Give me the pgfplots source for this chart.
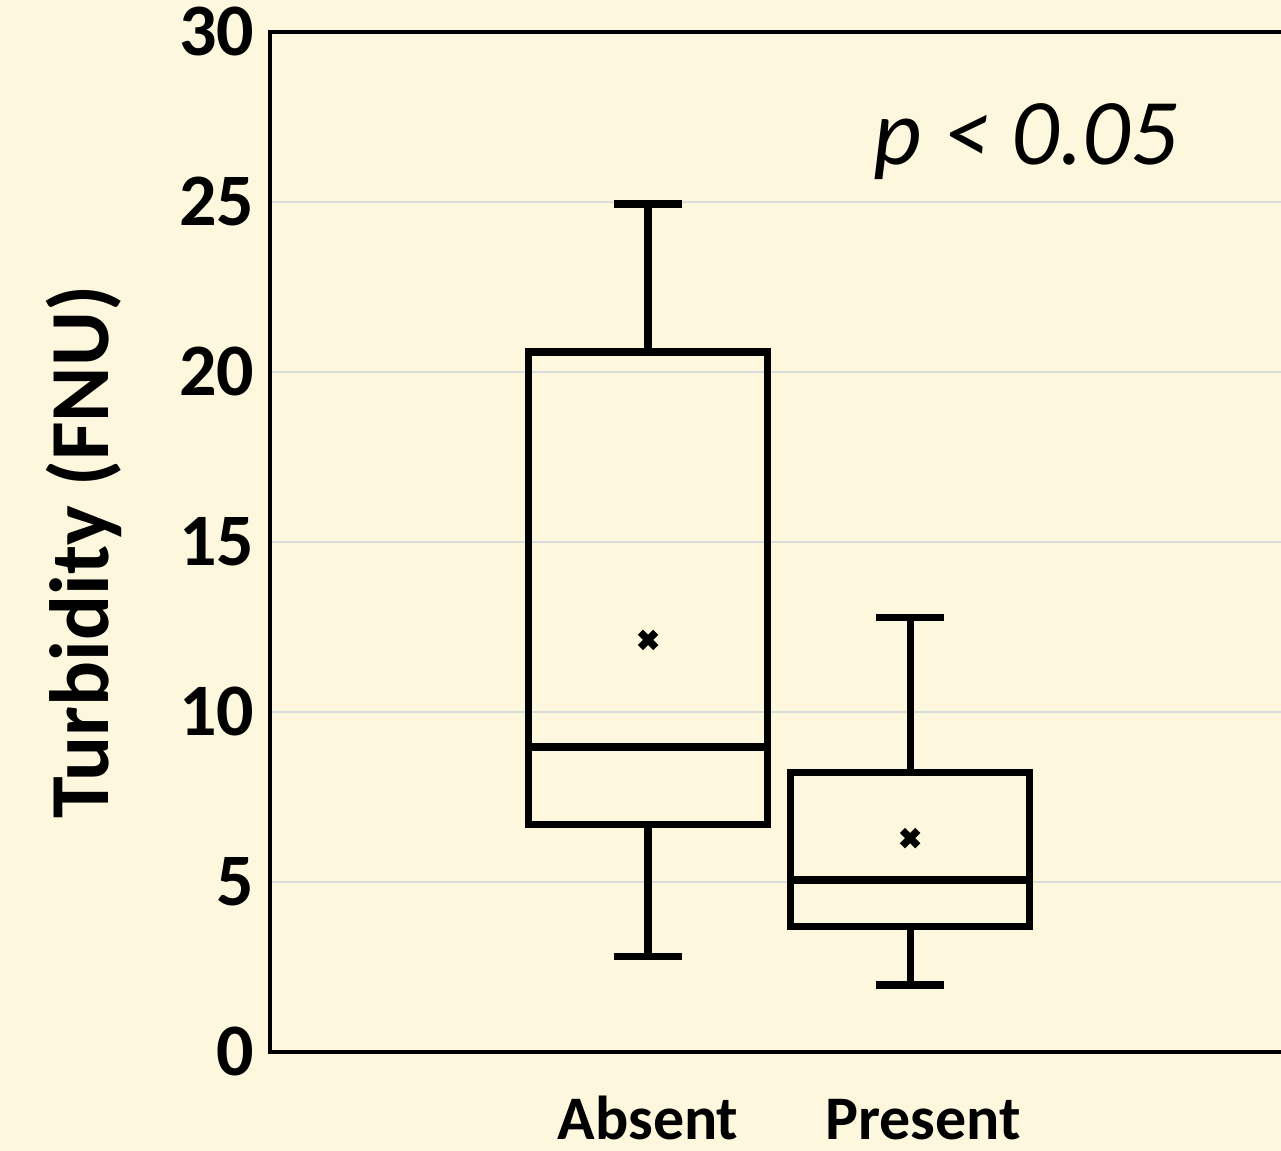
\documentclass[border=0pt]{standalone}
\usepackage{fontspec}
\setmainfont{Carlito}
\usepackage{pgfplots}
\pgfplotsset{compat=1.18}
\usepgfplotslibrary{statistics}
\definecolor{bgc}{RGB}{253,248,221}
\definecolor{gridc}{RGB}{218,219,221}
\begin{document}
\begin{tikzpicture}[x=1pt,y=1pt]
\fill[bgc] (0,0) rectangle (320.25,287.75);
\useasboundingbox (0,0) rectangle (320.25,287.75);
\clip (0,0) rectangle (320.25,287.75);
\begin{axis}[
  at={(67.5pt,24.75pt)}, anchor=south west,
  width=255pt, height=255pt, scale only axis,
  xmin=-0.443, xmax=3.45, ymin=0, ymax=30,
  axis line style={line width=1pt},
  ytick={0,5,...,30}, xtick={1,2.05}, xticklabels={Absent,Present},
  major tick length=0pt,
  ymajorgrids, grid style={gridc, line width=0.6pt},
  /pgf/number format/assume math mode=true,
  yticklabel style={font=\bfseries\fontsize{18.5}{18.5}\selectfont, anchor=east, inner sep=0pt, xshift=-3.75pt},
  xticklabel style={font=\bfseries\fontsize{15.5}{15.5}\selectfont, anchor=base, inner sep=0pt, yshift=-22pt},
  ylabel={Turbidity (FNU)},
  every axis y label/.style={at={(axis description cs:-0.182,0.49)}, rotate=90, anchor=center, font=\bfseries\fontsize{21}{21}\selectfont},
  boxplot/draw direction=y,
  boxplot/every average/.style={/tikz/mark=x, /tikz/mark size=2.7pt, /tikz/line width=2.2pt, /tikz/every mark/.append style={line width=2.2pt, solid}},
]
\addplot[black, line width=1.8pt, solid, fill=none, mark=x, mark size=2.7pt, mark options={line width=2.2pt, solid},
  boxplot prepared={draw position=1, lower whisker=2.8, lower quartile=6.68, median=8.97, upper quartile=20.59, upper whisker=24.94, average=12.12, box extend=0.91, whisker extend=0.26}]
  coordinates {};
\addplot[black, line width=1.8pt, solid, fill=none, mark=x, mark size=2.7pt, mark options={line width=2.2pt, solid},
  boxplot prepared={draw position=2, lower whisker=1.97, lower quartile=3.68, median=5.06, upper quartile=8.21, upper whisker=12.79, average=6.29, box extend=0.91, whisker extend=0.26}]
  coordinates {};
\node[anchor=base west, inner sep=0pt, font=\itshape\fontsize{23.5}{23.5}\selectfont] at (axis cs:1.859,26.09) {p < 0.05};
\end{axis}
\end{tikzpicture}
\end{document}
